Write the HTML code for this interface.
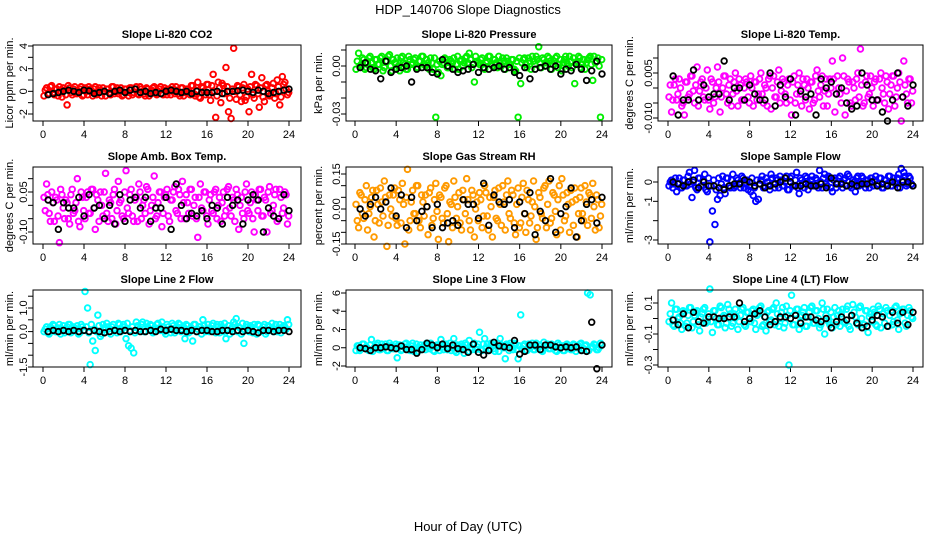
<!DOCTYPE html>
<html><head><meta charset="utf-8"><style>
html,body{margin:0;padding:0;background:#fff}
svg text{font-family:"Liberation Sans",sans-serif;fill:#000}
</style></head><body>
<svg id="chart" width="936" height="540" viewBox="0 0 936 540" xmlns="http://www.w3.org/2000/svg">
<text x="468" y="14" font-size="13" text-anchor="middle">HDP_140706  Slope Diagnostics</text>
<text x="468" y="531" font-size="13" text-anchor="middle">Hour of Day (UTC)</text>
</svg>
<script>
const hoursC=[0.1,0.35,0.6,0.85,1.1,1.35,1.6,1.85,2.1,2.35,2.6,2.85,3.1,3.35,3.6,3.85,4.1,4.35,4.6,4.85,5.1,5.35,5.6,5.85,6.1,6.35,6.6,6.85,7.1,7.35,7.6,7.85,8.1,8.35,8.6,8.85,9.1,9.35,9.6,9.85,10.1,10.35,10.6,10.85,11.1,11.35,11.6,11.85,12.1,12.35,12.6,12.85,13.1,13.35,13.6,13.85,14.1,14.35,14.6,14.85,15.1,15.35,15.6,15.85,16.1,16.35,16.6,16.85,17.1,17.35,17.6,17.85,18.1,18.35,18.6,18.85,19.1,19.35,19.6,19.85,20.1,20.35,20.6,20.85,21.1,21.35,21.6,21.85,22.1,22.35,22.6,22.85,23.1,23.35,23.6,23.85];
const hoursC2=[0.22,0.47,0.72,0.97,1.22,1.47,1.72,1.97,2.22,2.47,2.72,2.97,3.22,3.47,3.72,3.97,4.22,4.47,4.72,4.97,5.22,5.47,5.72,5.97,6.22,6.47,6.72,6.97,7.22,7.47,7.72,7.97,8.22,8.47,8.72,8.97,9.22,9.47,9.72,9.97,10.22,10.47,10.72,10.97,11.22,11.47,11.72,11.97,12.22,12.47,12.72,12.97,13.22,13.47,13.72,13.97,14.22,14.47,14.72,14.97,15.22,15.47,15.72,15.97,16.22,16.47,16.72,16.97,17.22,17.47,17.72,17.97,18.22,18.47,18.72,18.97,19.22,19.47,19.72,19.97,20.22,20.47,20.72,20.97,21.22,21.47,21.72,21.97,22.22,22.47,22.72,22.97,23.22,23.47,23.72,23.97];
const hoursB=[0.5,1,1.5,2,2.5,3,3.5,4,4.5,5,5.5,6,6.5,7,7.5,8,8.5,9,9.5,10,10.5,11,11.5,12,12.5,13,13.5,14,14.5,15,15.5,16,16.5,17,17.5,18,18.5,19,19.5,20,20.5,21,21.5,22,22.5,23,23.5,24];
const xTicks=[0,4,8,12,16,20,24];
const co2All=[-0.4,0.3,-0.2,0.5,-0.3,0.2,0.4,-0.5,0.1,-1.2,0.3,-0.3,0.4,-0.2,0.2,-0.4,0.3,-0.3,0.2,-0.4,0.4,-0.2,0.1,0.3,-0.4,0.2,-0.3,0.4,0.1,-0.2,0.3,-0.3,0.2,-0.4,0.3,-0.1,0.4,-0.3,0.2,-0.2,0.3,-0.4,0.1,0.4,-0.3,0.2,-0.2,0.3,-0.3,0.2,0.4,-0.2,0.1,-0.4,0.3,-0.1,0.2,-0.3,0.5,-0.4,0.8,-0.6,0.3,-0.3,0.6,-0.8,1.5,-2.3,0.8,-1.0,0.5,2.1,-1.8,-2.4,3.8,-0.7,0.4,-0.9,0.6,-0.5,-1.8,1.5,-0.6,0.5,-1.4,1.2,-0.9,0.6,-0.4,0.3,-0.6,1.0,-1.2,1.3,0.8,-0.3];
const co2Band=[0.1,-0.2,0.4,-0.1,0.2,-0.4,0.0,0.3,-0.3,0.5,-0.1,0.2,-0.2,0.0,0.4,-0.3,0.0,0.4,-0.1,0.2,-0.3,0.3,-0.4,0.0,0.2,-0.1,0.4,-0.2,0.3,0.0,-0.4,0.2,-0.1,0.3,-0.3,0.2,-0.2,0.4,0.0,-0.4,0.2,-0.1,0.3,-0.2,0.0,0.4,-0.3,0.1,0.2,-0.3,0.0,0.4,-0.2,0.3,-0.4,0.2,0.0,0.5,-0.2,0.1,-0.5,0.4,0.0,0.6,-0.3,0.5,0.0,-0.4,0.3,0.7,-0.2,0.4,-0.6,0.2,0.0,0.5,-0.3,0.3,-0.8,0.2,0.4,-0.3,0.6,-0.2,0.3,-0.5,0.5,0.0,-0.3,0.7,-0.2,0.4,-0.5,0.6,0.2,-0.1];
const co2Avg=[-0.3,-0.2,-0.1,0.0,0.1,0.0,-0.1,0.1,0.05,-0.2,-0.1,0.0,-0.2,0.0,0.1,-0.1,0.1,0.2,-0.1,0.0,-0.2,-0.1,-0.2,0.0,0.1,0.0,-0.1,0.0,-0.2,0.0,-0.1,-0.1,-0.1,0.0,-0.2,0.0,0.0,0.05,0.1,0.0,-0.1,0.1,0.0,-0.2,-0.1,0.0,0.1,0.2];
const presAll=[-0.002,0.008,0.001,0.004,-0.001,0.005,0.002,-0.002,0.004,0.001,0.006,-0.001,0.003,0.007,-0.003,0.002,0.005,-0.003,0.006,0.001,-0.002,0.004,0.002,0.005,-0.001,0.003,0.006,0.000,0.002,0.005,-0.002,-0.032,-0.004,-0.006,0.002,0.004,-0.001,0.003,0.005,0.001,-0.002,0.004,0.002,0.006,0.008,-0.001,-0.010,0.003,0.001,0.005,-0.002,0.003,0.006,0.000,0.004,-0.001,0.002,0.005,-0.002,0.003,0.001,0.004,-0.003,-0.032,-0.011,0.004,0.001,0.005,-0.002,0.003,0.006,0.012,-0.001,0.004,0.002,0.005,-0.002,0.003,0.006,0.001,-0.003,0.004,0.002,0.006,-0.001,-0.011,0.003,0.005,0.001,-0.002,0.004,0.006,-0.009,0.002,0.005,-0.032];
const presBand=[0.003,0.000,0.005,-0.002,0.002,0.006,-0.001,0.004,0.001,0.005,-0.003,0.003,0.006,0.000,0.004,0.002,0.000,0.005,0.002,-0.002,0.006,0.001,0.004,-0.001,0.003,0.006,0.001,0.004,-0.002,0.002,0.005,0.001,0.003,0.001,0.005,-0.001,0.004,0.002,-0.002,0.006,0.003,0.000,0.005,0.002,0.004,0.001,0.006,0.002,0.004,-0.001,0.002,0.006,0.001,0.004,0.002,0.006,0.000,0.003,0.005,0.001,0.004,-0.002,0.003,0.005,0.002,0.005,-0.001,0.003,0.006,0.001,0.004,0.002,0.005,0.000,0.006,0.003,0.001,0.005,-0.001,0.004,0.002,0.006,0.000,0.003,0.005,0.002,0.006,-0.001,0.004,0.002,0.005,0.001,0.006,0.003,0.000,0.004];
const presAvg=[-0.001,0.002,-0.002,-0.003,-0.008,0.003,-0.004,-0.002,-0.001,0.000,-0.010,-0.002,-0.001,-0.001,-0.004,-0.005,0.004,0.000,-0.002,-0.004,-0.003,-0.002,0.001,-0.004,-0.001,-0.002,-0.001,0.000,-0.002,-0.001,-0.004,-0.006,-0.001,-0.008,-0.002,-0.001,0.000,-0.002,0.000,-0.005,-0.002,-0.003,0.001,-0.002,-0.009,-0.003,0.003,-0.005];
const tempAll=[-0.003,-0.008,0.001,-0.004,0.003,-0.006,-0.009,0.002,-0.002,0.004,-0.005,0.007,-0.001,0.003,-0.004,0.006,-0.007,0.002,-0.003,0.007,-0.008,0.000,0.004,-0.005,0.003,-0.002,0.005,-0.006,0.001,-0.004,0.003,-0.003,0.004,-0.006,0.002,-0.002,0.005,-0.005,0.000,0.003,-0.007,0.004,-0.003,0.006,-0.001,0.002,-0.005,0.003,-0.009,0.004,-0.002,0.005,-0.006,0.001,0.003,-0.007,0.002,-0.004,0.006,-0.003,0.004,-0.001,-0.006,0.003,0.009,-0.008,0.004,-0.002,0.010,-0.009,0.003,-0.005,0.002,-0.004,0.005,0.013,-0.006,0.002,-0.003,0.004,-0.006,0.003,-0.004,0.005,-0.002,0.004,-0.007,0.001,0.004,-0.003,0.005,-0.011,0.009,-0.002,0.003,-0.005];
const tempBand=[0.001,-0.004,0.003,-0.002,0.000,-0.005,0.002,-0.003,0.004,-0.001,0.001,-0.006,0.002,-0.003,0.000,-0.004,0.003,-0.005,0.000,0.002,-0.003,0.004,-0.002,0.001,-0.006,0.002,-0.001,0.003,-0.004,0.000,0.002,-0.005,0.000,0.002,-0.004,0.003,-0.002,0.001,-0.006,0.004,0.000,-0.003,0.002,-0.005,0.003,-0.002,0.001,-0.004,0.002,-0.005,0.001,-0.002,0.003,-0.004,0.000,0.002,-0.005,0.004,-0.001,0.001,-0.006,0.003,-0.002,0.000,0.003,-0.002,0.000,-0.005,0.004,-0.001,0.002,-0.006,0.000,0.003,-0.003,0.001,-0.005,0.004,-0.002,0.000,0.002,-0.004,0.003,0.000,-0.005,0.002,-0.002,0.004,-0.006,0.000,0.002,-0.003,0.001,-0.005,0.003,-0.001];
const tempAvg=[0.004,-0.009,-0.004,-0.004,0.006,-0.004,0.001,-0.003,-0.002,-0.002,0.009,-0.004,0.000,0.000,-0.004,0.001,-0.002,-0.004,-0.004,0.005,-0.006,0.001,-0.003,0.003,-0.009,-0.001,-0.003,-0.002,-0.009,0.003,0.000,0.002,-0.002,0.000,-0.005,-0.007,-0.006,0.005,0.001,-0.004,-0.004,-0.008,-0.011,-0.004,0.005,-0.003,-0.006,0.001];
const ambAll=[0.03,0.08,-0.03,0.05,-0.06,0.02,-0.14,0.04,-0.05,0.01,-0.07,0.06,-0.02,0.10,-0.08,0.03,-0.05,0.05,-0.03,0.06,-0.09,0.02,0.05,-0.04,0.12,-0.06,0.01,0.04,-0.07,0.09,0.02,-0.05,0.13,-0.03,0.06,-0.06,0.03,0.08,-0.05,0.02,0.07,-0.07,0.00,0.11,-0.04,0.05,-0.08,0.03,0.06,-0.06,0.02,0.07,-0.03,0.04,0.09,-0.05,0.01,0.06,-0.04,0.03,-0.12,0.08,-0.02,0.05,-0.07,0.04,-0.03,0.06,0.00,-0.06,0.05,-0.02,0.07,-0.04,0.02,0.06,-0.09,0.03,-0.05,0.08,-0.03,0.05,-0.10,0.02,0.06,-0.04,0.03,-0.10,0.07,-0.02,0.04,-0.06,0.06,-0.03,0.05,-0.07];
const ambBand=[-0.02,0.04,-0.06,0.01,0.03,-0.04,0.06,-0.01,0.02,-0.05,0.04,-0.03,0.01,-0.06,0.05,-0.02,0.03,-0.03,0.06,-0.01,0.04,-0.06,0.00,0.05,-0.03,0.02,-0.05,0.06,-0.02,0.01,-0.04,0.05,-0.01,0.04,-0.04,0.02,-0.06,0.05,0.00,-0.03,0.06,-0.02,0.03,-0.05,0.01,0.05,-0.03,0.04,-0.04,0.02,0.05,-0.02,0.06,-0.05,0.01,0.04,-0.03,0.06,0.00,-0.05,0.03,-0.01,0.05,-0.04,0.02,-0.02,0.05,-0.05,0.03,0.01,-0.04,0.06,-0.01,0.03,-0.06,0.04,0.00,-0.03,0.05,-0.02,0.01,-0.05,0.04,-0.02,0.06,-0.04,0.02,0.05,-0.03,0.00,0.06,-0.05,0.03,-0.01,0.04,-0.04];
const ambAvg=[0.02,0.01,-0.09,0.01,-0.01,-0.01,0.03,-0.04,0.04,-0.01,0.00,-0.05,0.00,-0.07,0.04,-0.06,0.02,0.03,-0.01,0.03,-0.06,-0.01,-0.01,0.03,-0.09,0.08,0.00,-0.05,-0.03,-0.04,-0.02,-0.05,0.00,-0.01,-0.07,0.03,0.00,0.02,-0.07,0.02,0.04,0.02,-0.10,-0.01,-0.04,-0.05,0.04,-0.02];
const rhAll=[0.02,-0.08,0.06,-0.04,0.10,-0.02,0.05,-0.12,0.08,-0.06,0.03,0.12,-0.16,0.06,-0.03,0.09,-0.07,0.04,0.11,-0.15,0.17,-0.05,0.08,-0.02,0.10,-0.08,0.03,0.06,-0.11,0.09,-0.04,0.11,-0.13,0.05,-0.06,0.10,-0.14,0.02,0.12,-0.04,0.07,-0.09,0.04,0.13,-0.05,0.08,-0.12,0.03,0.07,-0.08,0.10,-0.03,0.05,-0.12,0.08,-0.05,0.02,0.10,-0.09,0.12,-0.04,0.06,-0.11,0.09,-0.06,0.11,-0.10,0.04,-0.03,0.12,-0.13,0.07,-0.02,0.09,-0.08,0.12,-0.04,0.06,-0.11,0.10,0.13,-0.05,0.07,-0.10,0.03,0.09,-0.12,0.05,-0.02,0.10,-0.07,0.06,0.11,-0.09,0.04,-0.03];
const rhBand=[-0.05,0.07,-0.02,0.04,-0.09,0.01,0.08,-0.05,0.02,0.09,-0.03,0.05,-0.07,0.00,0.06,-0.04,0.08,-0.06,0.02,0.05,-0.09,0.03,-0.02,0.10,-0.05,0.06,-0.03,0.01,0.07,-0.07,0.04,-0.01,0.06,-0.04,0.09,-0.02,0.03,-0.08,0.05,0.01,-0.06,0.08,-0.02,0.04,-0.09,0.06,0.00,-0.05,0.04,-0.03,0.07,-0.09,0.01,0.05,-0.04,0.09,-0.07,0.03,0.06,-0.02,0.08,-0.06,0.02,-0.08,0.05,-0.02,0.08,-0.06,0.03,0.01,-0.08,0.05,-0.04,0.10,0.02,-0.06,0.07,-0.01,0.04,-0.09,0.06,-0.03,0.02,0.08,-0.07,0.04,-0.02,0.09,-0.05,0.03,0.07,-0.04,0.01,0.06,-0.08,0.02];
const rhAvg=[0.00,-0.03,0.02,0.05,0.00,0.03,0.09,-0.03,0.06,-0.08,0.05,-0.05,-0.01,0.01,-0.08,0.02,-0.08,-0.06,-0.05,-0.07,0.04,0.02,0.02,-0.04,0.11,-0.07,0.06,0.03,0.02,0.04,-0.08,0.03,-0.02,0.07,-0.11,-0.01,-0.05,0.13,-0.10,-0.02,0.01,0.09,-0.12,-0.05,0.02,0.04,-0.06,0.05];
const sampAll=[-0.2,0.1,-0.1,-0.5,0.2,-0.3,0.1,-0.2,0.5,-0.8,0.6,-0.4,0.2,-0.2,0.4,-0.5,-3.1,-1.5,-2.2,-0.9,-0.7,0.3,-0.6,0.2,-0.3,0.4,-0.2,0.1,-0.3,0.2,-0.1,-0.4,-0.5,-0.7,-1.0,-0.9,0.1,-0.3,0.2,-0.2,0.4,-0.1,0.2,-0.3,0.1,-0.2,0.3,-0.4,0.3,-0.2,0.5,-0.6,0.1,-0.3,0.2,-0.1,0.3,-0.2,0.1,0.6,-0.3,0.4,-0.2,0.2,-0.5,0.2,-0.1,0.3,-0.3,0.2,0.4,-0.2,0.1,-0.5,0.3,-0.1,0.2,-0.3,0.1,0.2,-0.2,0.3,-0.1,0.2,-0.3,0.1,0.3,-0.2,0.2,-0.1,0.4,0.7,0.5,-0.2,0.3,-0.1];
const sampBand=[0.0,-0.3,0.2,-0.1,-0.3,0.1,-0.2,0.3,-0.1,0.0,-0.3,0.2,-0.2,0.1,-0.4,0.2,-0.2,0.1,-0.4,0.2,-0.1,-0.3,0.2,-0.2,0.1,-0.3,0.2,-0.1,0.3,-0.3,0.1,-0.2,0.2,-0.3,0.1,-0.1,0.3,-0.2,0.0,-0.4,0.2,-0.3,0.1,0.3,-0.2,0.0,-0.4,0.2,-0.2,0.1,-0.3,0.2,-0.1,0.3,-0.4,0.1,-0.2,0.2,-0.3,0.0,0.2,-0.1,0.3,-0.3,0.1,-0.3,0.2,-0.1,0.1,-0.2,0.3,-0.3,0.0,0.2,-0.2,0.3,-0.1,0.1,-0.3,0.2,0.1,-0.2,0.2,-0.3,0.1,-0.1,0.3,-0.2,0.0,0.2,-0.3,0.1,0.3,-0.1,0.2,-0.2];
const sampAvg=[0.0,-0.1,-0.2,0.0,0.1,-0.3,0.0,-0.2,-0.2,-0.3,-0.4,-0.2,-0.1,-0.1,0.1,0.0,-0.2,-0.1,-0.3,-0.2,-0.1,0.0,0.2,0.0,-0.2,-0.2,-0.1,-0.2,-0.2,-0.1,-0.3,0.2,-0.1,-0.1,-0.2,-0.1,-0.2,-0.1,-0.1,0.0,-0.2,-0.1,-0.2,0.0,-0.3,0.0,0.0,-0.2];
const l2All=[0.0,0.2,-0.1,0.1,0.25,0.0,0.3,0.1,-0.05,0.2,0.3,0.0,0.15,0.25,-0.05,0.2,1.7,1.0,-1.4,-0.4,-0.8,0.7,-0.2,0.3,0.1,0.2,-0.1,0.3,0.1,0.35,0.0,0.3,-0.3,-0.6,-0.7,-0.9,0.4,0.1,0.3,0.0,0.35,0.1,0.25,0.0,0.3,0.15,0.4,0.0,0.3,0.1,0.35,-0.05,0.2,0.3,0.1,-0.3,0.25,0.0,-0.4,0.3,0.1,0.2,0.5,0.0,0.3,0.1,0.35,-0.05,0.2,0.3,0.0,-0.3,0.25,0.1,0.4,0.55,0.2,-0.1,-0.5,0.3,0.0,0.2,0.3,-0.1,0.25,0.1,0.3,0.0,0.2,0.35,0.1,0.0,0.3,0.15,0.2,0.5];
const l2Band=[0.1,-0.05,0.2,0.3,0.0,0.15,-0.1,0.25,0.05,0.3,-0.05,0.2,0.1,-0.1,0.3,0.05,0.2,-0.05,0.3,0.1,0.0,0.25,-0.1,0.15,0.35,0.0,0.2,0.05,-0.05,0.3,0.1,0.2,0.35,0.05,0.2,-0.05,0.25,0.1,0.4,0.0,0.2,0.3,-0.05,0.15,0.35,0.05,0.2,-0.1,0.2,-0.05,0.25,0.1,0.35,0.0,0.2,0.3,-0.05,0.15,0.3,0.0,0.2,-0.1,0.25,0.1,0.0,0.25,0.1,0.3,-0.05,0.2,0.35,0.05,-0.1,0.2,0.3,0.0,0.15,0.35,0.05,0.2,0.25,-0.05,0.1,0.3,0.0,0.2,-0.1,0.25,0.1,0.0,0.3,0.15,-0.05,0.25,0.1,0.3];
const l2Avg=[0.0,0.05,0.0,0.05,0.0,0.05,0.0,0.05,0.0,0.05,0.0,-0.05,0.0,0.05,0.0,0.05,0.0,0.05,0.0,0.0,0.05,0.0,0.1,0.05,0.1,0.05,0.05,0.0,0.05,0.0,0.05,0.05,0.0,0.0,0.05,0.05,0.0,0.05,0.0,0.05,0.0,-0.05,0.05,0.05,0.0,0.05,0.05,0.0];
const l3All=[-0.3,0.2,-0.1,0.4,0.1,-0.3,0.9,0.0,0.3,-0.2,0.4,0.1,-0.3,0.5,0.2,-0.1,-1.1,0.3,-0.2,0.4,0.1,-0.3,0.5,0.0,-0.4,0.3,0.1,-0.2,0.4,0.5,-0.3,0.2,0.3,0.9,-0.2,0.4,0.1,-0.3,1.0,-0.5,0.2,0.4,-0.6,0.3,0.8,-0.2,0.5,0.1,1.7,-0.3,1.0,0.4,-0.1,0.3,-0.4,0.5,1.0,0.2,-1.2,0.3,0.5,-0.2,0.4,-1.2,3.6,0.2,-0.3,0.4,0.1,-0.2,0.5,0.3,-0.3,0.6,0.2,-0.1,0.4,0.0,-0.4,0.3,0.2,-0.3,0.4,0.1,-0.2,0.3,0.0,0.4,-0.3,0.2,6.0,5.8,0.1,0.3,-0.2,0.5];
const l3Band=[0.2,-0.3,0.4,0.0,-0.2,0.3,-0.4,0.1,0.5,-0.2,0.0,0.4,-0.3,0.2,-0.1,0.4,0.3,-0.3,0.1,0.5,-0.2,0.2,-0.4,0.4,0.0,-0.2,0.3,0.5,-0.1,0.1,-0.4,0.3,-0.3,0.1,0.4,-0.2,0.5,0.0,-0.3,0.3,-0.1,0.2,0.5,-0.4,0.0,0.3,-0.2,0.4,-0.2,0.4,0.0,-0.3,0.5,-0.1,0.2,-0.4,0.3,0.0,0.4,-0.3,0.1,0.5,-0.2,0.2,-0.1,0.4,-0.3,0.2,0.5,-0.2,0.0,0.3,-0.4,0.2,0.4,-0.1,0.1,-0.3,0.5,0.0,-0.3,0.3,0.0,-0.2,0.4,-0.4,0.2,0.5,-0.1,0.3,-0.3,0.1,0.4,-0.2,0.0,0.3];
const l3Avg=[0.0,-0.1,-0.3,0.0,0.0,0.1,0.0,-0.1,0.2,-0.2,-0.2,-0.6,-0.2,0.5,0.3,0.0,0.4,-0.1,0.3,-0.1,-0.2,-0.5,0.4,-0.5,-0.8,-0.3,0.6,0.2,0.1,0.0,0.8,-0.7,-0.4,0.3,0.3,-0.2,0.3,0.3,0.1,0.0,0.1,0.0,0.1,-0.3,-0.4,2.8,-2.3,0.3];
const l4All=[-0.02,0.10,-0.05,0.06,0.01,-0.07,0.04,-0.03,0.07,-0.06,0.02,0.05,-0.08,0.03,0.07,-0.02,0.19,-0.09,0.05,-0.04,0.08,0.01,-0.06,0.09,0.03,-0.03,0.06,-0.07,0.02,0.07,-0.05,0.04,-0.02,0.06,-0.07,0.03,0.08,-0.04,-0.08,0.05,-0.01,0.07,0.10,-0.05,0.04,-0.06,0.08,-0.30,0.15,-0.04,0.06,-0.07,0.02,0.07,-0.05,0.04,0.08,-0.03,0.05,-0.06,0.10,-0.10,0.06,-0.04,-0.06,0.07,0.02,-0.05,0.06,-0.03,0.08,-0.07,0.09,0.01,-0.04,0.08,-0.06,0.05,-0.09,0.03,0.06,-0.04,0.08,-0.06,0.03,0.07,-0.05,0.05,-0.02,0.08,-0.07,0.04,0.06,-0.05,0.07,0.01];
const l4Band=[0.03,-0.04,0.06,0.00,-0.03,0.05,-0.05,0.02,0.07,-0.02,0.04,-0.04,0.01,0.06,-0.03,0.03,-0.02,0.05,0.00,-0.04,0.07,0.02,-0.03,0.06,-0.05,0.03,0.01,-0.02,0.06,-0.04,0.04,0.00,0.05,-0.03,0.02,0.07,-0.05,0.01,0.04,-0.02,0.06,-0.04,0.03,0.00,0.07,-0.03,0.02,0.05,-0.04,0.03,0.06,-0.02,0.04,-0.05,0.01,0.07,-0.03,0.05,0.00,-0.04,0.06,0.02,-0.02,0.04,0.01,-0.04,0.05,0.03,-0.02,0.06,-0.05,0.02,0.04,-0.03,0.07,0.00,-0.04,0.05,0.01,-0.02,0.04,-0.05,0.06,0.01,-0.03,0.05,0.02,-0.04,0.07,-0.01,0.03,0.06,-0.03,0.02,0.05,0.00];
const l4Avg=[-0.01,-0.04,0.03,-0.06,0.04,-0.02,-0.03,0.01,0.01,0.00,0.00,0.01,0.01,0.10,-0.02,0.00,0.03,0.05,0.01,-0.04,-0.02,0.01,0.01,0.00,0.02,-0.03,0.01,0.01,-0.01,-0.02,0.00,-0.06,-0.02,0.01,-0.01,0.02,-0.03,-0.06,-0.05,-0.01,0.02,0.01,-0.05,0.04,-0.03,0.04,-0.04,0.04];

const cols=[{l:33,r:301,x0:43,x24:289,yl:10,tl:24},{l:346,r:612,x0:355,x24:602,yl:319,tl:337},{l:658,r:923,x0:668,x24:913,yl:630,tl:649}];
const rows=[{t:45,b:121},{t:167,b:244},{t:290,b:367}];
const panels=[
 {name:'co2',title:'Slope Li-820 CO2',ylab:'Licor ppm per min.',c:'#ff0000',all:co2All,band:co2Band,avg:co2Avg,ref:[4,46,-2,114],ticks:[-2,-1,0,1,2,3,4],labs:[[-2,'-2'],[0,'0'],[2,'2'],[4,'4']]},
 {name:'pressure',title:'Slope Li-820 Pressure',ylab:'kPa per min.',c:'#00ee00',all:presAll,band:presBand,avg:presAvg,ref:[0,66,-0.03,114],ticks:[0.01,0,-0.01,-0.02,-0.03],labs:[[0,'0.00'],[-0.03,'-0.03']]},
 {name:'li820-temp',title:'Slope Li-820 Temp.',ylab:'degrees C per min.',c:'#ff00ff',all:tempAll,band:tempBand,avg:tempAvg,ref:[0.005,73,-0.01,118],ticks:[0.01,0.005,0,-0.005,-0.01],labs:[[0.005,'0.005'],[-0.01,'-0.010']]},
 {name:'amb-box-temp',title:'Slope Amb. Box Temp.',ylab:'degrees C per min.',c:'#ff00ff',all:ambAll,band:ambBand,avg:ambAvg,ref:[0.05,192,-0.1,232],ticks:[0.1,0.05,0,-0.05,-0.1],labs:[[0.05,'0.05'],[-0.1,'-0.10']]},
 {name:'gas-stream-rh',title:'Slope Gas Stream RH',ylab:'percent per min.',c:'#ff9a00',all:rhAll,band:rhBand,avg:rhAvg,ref:[0.15,174,-0.15,244],ticks:[0.15,0.1,0.05,0,-0.05,-0.1,-0.15],labs:[[0.15,'0.15'],[0,'0.00'],[-0.15,'-0.15']]},
 {name:'sample-flow',title:'Slope Sample Flow',ylab:'ml/min per min.',c:'#0000ff',all:sampAll,band:sampBand,avg:sampAvg,ref:[0,182,-3,240],ticks:[0,-1,-2,-3],labs:[[0,'0'],[-1,'-1'],[-3,'-3']]},
 {name:'line2-flow',title:'Slope Line 2 Flow',ylab:'ml/min per min.',c:'#00ffff',all:l2All,band:l2Band,avg:l2Avg,ref:[1,308,-1.5,367],ticks:[1.5,1,0.5,0,-0.5,-1,-1.5],labs:[[1,'1.0'],[0,'0.0'],[-1.5,'-1.5']]},
 {name:'line3-flow',title:'Slope Line 3 Flow',ylab:'ml/min per min.',c:'#00ffff',all:l3All,band:l3Band,avg:l3Avg,ref:[6,293,-2,366],ticks:[6,4,2,0,-2],labs:[[6,'6'],[4,'4'],[2,'2'],[0,'0'],[-2,'-2']]},
 {name:'line4-flow',title:'Slope Line 4 (LT) Flow',ylab:'ml/min per min.',c:'#00ffff',all:l4All,band:l4Band,avg:l4Avg,ref:[0.1,303,-0.3,365],ticks:[0.1,0,-0.1,-0.2,-0.3],labs:[[0.1,'0.1'],[-0.1,'-0.1'],[-0.3,'-0.3']]}
];
const NS='http://www.w3.org/2000/svg';
const svg=document.getElementById('chart');
function mk(tag,attrs,parent){const e=document.createElementNS(NS,tag);for(const k in attrs)e.setAttribute(k,attrs[k]);parent.appendChild(e);return e;}
panels.forEach((p,i)=>{
 const C=cols[i%3],R=rows[Math.floor(i/3)];
 const xs=h=>C.x0+(h/24)*(C.x24-C.x0);
 const ys=v=>p.ref[1]+(v-p.ref[0])*(p.ref[3]-p.ref[1])/(p.ref[2]-p.ref[0]);
 const g=mk('g',{},svg);
 
 
 const t=mk('text',{x:(C.l+C.r)/2,y:R.t-7,'font-size':11,'font-weight':'bold','text-anchor':'middle'},g);
 t.textContent=p.title;
 
 
 const yl=mk('text',{x:C.yl,y:(R.t+R.b)/2,'font-size':11,'text-anchor':'middle','dominant-baseline':'central',transform:`rotate(-90 ${C.yl} ${(R.t+R.b)/2})`},g);
 yl.textContent=p.ylab;
 
 
 const xa=mk('g',{stroke:'#000','stroke-width':1},g);
 
 
 xTicks.forEach(v=>{
  const x=xs(v);
  mk('line',{x1:x,x2:x,y1:R.b,y2:R.b+5},xa);
  const tl=mk('text',{x:x,y:R.b+17,'font-size':11,'text-anchor':'middle',stroke:'none'},xa);
  tl.textContent=String(v);
  
  
 });
 mk('line',{x1:xs(0),x2:xs(24),y1:R.b,y2:R.b},xa);
 const ya=mk('g',{stroke:'#000','stroke-width':1},g);
 
 
 p.ticks.forEach(v=>{const y=ys(v);mk('line',{x1:C.l-5,x2:C.l,y1:y,y2:y},ya);});
 mk('line',{x1:C.l,x2:C.l,y1:ys(Math.max(...p.ticks)),y2:ys(Math.min(...p.ticks))},ya);
 p.labs.forEach(([v,s])=>{
  const y=ys(v);
  const tl=mk('text',{x:C.tl,y:y,'font-size':11,'text-anchor':'middle','dominant-baseline':'central',stroke:'none',transform:`rotate(-90 ${C.tl} ${y})`},ya);
  tl.textContent=s;
  
  
 });
 const sa=mk('g',{fill:'none',stroke:p.c,'stroke-width':1.9},g);
 
 
 p.band.forEach((v,j)=>{
  const c=mk('circle',{cx:xs(hoursC2[j]),cy:ys(v),r:2.8},sa);
  
  
 });
 p.all.forEach((v,j)=>{
  const c=mk('circle',{cx:xs(hoursC[j]),cy:ys(v),r:2.8},sa);
  
  
 });
 const sb=mk('g',{fill:'none',stroke:'#000','stroke-width':1.8},g);
 
 
 p.avg.forEach((v,j)=>{
  const c=mk('circle',{cx:xs(hoursB[j]),cy:ys(v),r:2.8},sb);
  
  
 });
 const box=mk('rect',{x:C.l,y:R.t,width:C.r-C.l,height:R.b-R.t,fill:'none',stroke:'#000','stroke-width':1},g);
 
 
});
</script>
</body></html>
